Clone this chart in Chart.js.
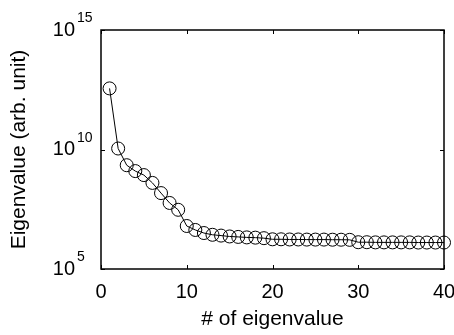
<!DOCTYPE html>
<html>
<head>
<meta charset="utf-8">
<script src="https://cdn.jsdelivr.net/npm/chart.js@4"></script>
<style>
  html, body { margin: 0; padding: 0; background: #fff; }
  #wrap { width: 454px; height: 335px; }
</style>
</head>
<body>
<div id="wrap"><canvas id="c" width="454" height="335"></canvas></div>
<script>
// Eigenvalue index and magnitude (arbitrary units)
const eigenIndex = [1, 2, 3, 4, 5, 6, 7, 8, 9, 10,
                    11, 12, 13, 14, 15, 16, 17, 18, 19, 20,
                    21, 22, 23, 24, 25, 26, 27, 28, 29, 30,
                    31, 32, 33, 34, 35, 36, 37, 38, 39, 40];
const eigenValues = [3.6e12, 1.1e10, 2.2e9, 1.25e9, 8.5e8, 4.0e8, 1.5e8, 5.8e7, 3.0e7, 6.3e6,
                     4.3e6, 3.2e6, 2.7e6, 2.5e6, 2.3e6, 2.2e6, 2.1e6, 2.05e6, 1.95e6, 1.75e6,
                     1.75e6, 1.72e6, 1.72e6, 1.7e6, 1.7e6, 1.7e6, 1.68e6, 1.68e6, 1.66e6, 1.32e6,
                     1.32e6, 1.3e6, 1.3e6, 1.3e6, 1.3e6, 1.3e6, 1.28e6, 1.28e6, 1.28e6, 1.28e6];
const xTicks = [0, 10, 20, 30, 40];
const yTicks = [1e5, 1e10, 1e15];

const FONT = '"Liberation Sans", Arial, sans-serif';

// Box frame, inward tick marks and superscript exponents of the log axis
const matlabAxes = {
  id: 'matlabAxes',
  afterDraw(chart) {
    const { ctx, chartArea: a, scales: { x, y } } = chart;
    ctx.save();
    ctx.strokeStyle = '#000';
    ctx.lineWidth = 1.5;
    ctx.strokeRect(a.left, a.top, a.right - a.left, a.bottom - a.top);
    ctx.lineWidth = 1;
    const tl = 4;
    ctx.beginPath();
    xTicks.forEach(v => {
      const px = Math.round(x.getPixelForValue(v)) + 0.5;
      ctx.moveTo(px, a.bottom); ctx.lineTo(px, a.bottom - tl);
      ctx.moveTo(px, a.top); ctx.lineTo(px, a.top + tl);
    });
    yTicks.forEach(v => {
      const py = Math.round(y.getPixelForValue(v)) + 0.5;
      ctx.moveTo(a.left, py); ctx.lineTo(a.left + tl, py);
      ctx.moveTo(a.right, py); ctx.lineTo(a.right - tl, py);
    });
    ctx.stroke();
    // exponents next to the "10" tick labels
    ctx.fillStyle = '#000';
    ctx.font = '14px ' + FONT;
    ctx.textAlign = 'left';
    ctx.textBaseline = 'alphabetic';
    yTicks.forEach(v => {
      const py = y.getPixelForValue(v);
      ctx.fillText(String(Math.round(Math.log10(v))), a.left - 24, py - 8);
    });
    ctx.restore();
  }
};

new Chart(document.getElementById('c'), {
  type: 'line',
  data: {
    labels: eigenIndex,
    datasets: [{
      data: eigenIndex.map((k, i) => ({ x: k, y: eigenValues[i] })),
      borderColor: '#000',
      borderWidth: 1,
      pointStyle: 'circle',
      pointRadius: 6.5,
      pointBorderWidth: 1,
      pointBorderColor: '#000',
      pointBackgroundColor: 'rgba(0,0,0,0)',
      tension: 0,
      clip: false
    }]
  },
  options: {
    responsive: false,
    animation: false,
    devicePixelRatio: 1,
    layout: { padding: { top: 30, right: 10, left: 0, bottom: 0 } },
    plugins: { legend: { display: false }, tooltip: { enabled: false } },
    scales: {
      x: {
        type: 'linear',
        min: 0, max: 40,
        afterBuildTicks: s => { s.ticks = xTicks.map(v => ({ value: v })); },
        afterFit: s => { s.height = 66; s.paddingLeft = 0; s.paddingRight = 0; },
        grid: { display: false, drawTicks: false },
        border: { display: false },
        ticks: { color: '#000', padding: 11, maxRotation: 0, font: { family: FONT, size: 20 } },
        title: {
          display: true, text: '# of eigenvalue', color: '#000',
          font: { family: FONT, size: 21 }, padding: { top: 0, bottom: 3 }
        }
      },
      y: {
        type: 'logarithmic',
        min: 1e5, max: 1e15,
        afterBuildTicks: s => { s.ticks = yTicks.map(v => ({ value: v })); },
        afterFit: s => { s.width = 101; s.paddingTop = 0; s.paddingBottom = 0; },
        grid: { display: false, drawTicks: false },
        border: { display: false },
        ticks: {
          color: '#000', padding: 26, font: { family: FONT, size: 20 },
          callback: () => '10'
        },
        title: {
          display: true, text: 'Eigenvalue (arb. unit)', color: '#000',
          font: { family: FONT, size: 21 }, padding: { top: 7, bottom: 0 }
        }
      }
    }
  },
  plugins: [matlabAxes]
});
</script>
</body>
</html>
